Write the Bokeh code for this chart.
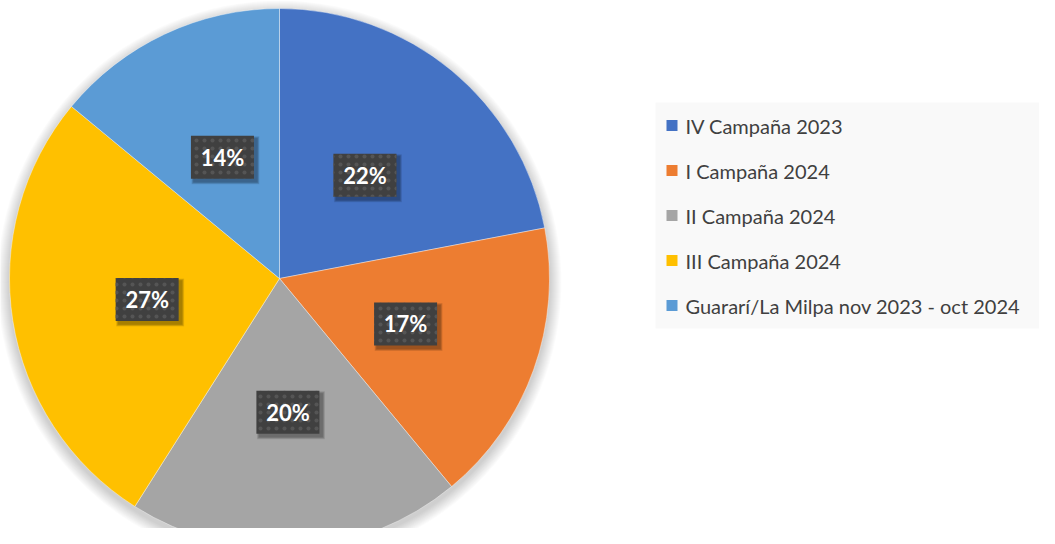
import math
from bokeh.plotting import figure
from bokeh.models import Range1d, ColumnDataSource
from bokeh.core.properties import value
from bokeh.embed import file_html
from bokeh.resources import INLINE

categories = ["IV Campaña 2023", "I Campaña 2024", "II Campaña 2024",
              "III Campaña 2024", "Guararí/La Milpa nov 2023 - oct 2024"]
shares = [22, 17, 20, 27, 14]
labels = ["22%", "17%", "20%", "27%", "14%"]
colors = ["#4472C4", "#ED7D31", "#A5A5A5", "#FFC000", "#5B9BD5"]

W, H = 1039, 528
p = figure(width=W, height=H, x_range=Range1d(0, W), y_range=Range1d(0, H),
           output_backend="svg", toolbar_location=None, min_border=0)
p.axis.visible = False
p.grid.visible = False
p.outline_line_color = None
p.background_fill_color = "white"
p.border_fill_color = "white"

cx, cy, R = 279, 250, 270

# soft shadow (offset downward)
for i in range(12, 0, -1):
    p.circle(x=[cx], y=[cy - 4], radius=R + i, fill_color="black",
             fill_alpha=0.016, line_color=None)

total = sum(shares)
starts, ends, lx, ly = [], [], [], []
cum = 0.0
for s in shares:
    a0 = math.pi / 2 - 2 * math.pi * cum / total
    cum += s
    a1 = math.pi / 2 - 2 * math.pi * cum / total
    starts.append(a0)
    ends.append(a1)
    mid = (a0 + a1) / 2
    lx.append(cx + 134 * math.cos(mid))
    ly.append(cy + 134 * math.sin(mid))

src = ColumnDataSource(dict(start=starts, end=ends, color=colors, lx=lx, ly=ly,
                            label=labels, cat=categories))
p.wedge(x=cx, y=cy, radius=R, start_angle="start", end_angle="end",
        direction="clock", fill_color="color", line_color="white",
        line_width=1, line_alpha=0.4, source=src)

# label boxes with shadow
for k in range(5, 0, -1):
    p.rect(x=[v + 3 for v in lx], y=[v - 3 for v in ly], width=63 + k, height=43 + k,
           fill_color="black", fill_alpha=0.08, line_color=None)
p.rect(x="lx", y="ly", width=63, height=43, fill_color="#404040",
       line_color=None, hatch_pattern=".", hatch_color="#555555",
       hatch_scale=8, hatch_weight=1.5, source=src)
p.text(x="lx", y="ly", text="label", text_color="white", text_font=value("Lato"),
       text_font_style="bold", text_font_size="22px", text_align="center",
       text_baseline="middle", source=src)

# legend
lg_left, lg_right, lg_top, lg_bottom = 655, W, 426, 200
p.quad(left=[lg_left], right=[lg_right], top=[lg_top], bottom=[lg_bottom],
       fill_color="#f9f9f9", line_color=None)
rows = [403 - 45 * i for i in range(len(categories))]
p.rect(x=[671.5] * len(rows), y=rows, width=11, height=11, fill_color=colors,
       line_color=None)
p.text(x=[685] * len(rows), y=rows, text=categories, text_color="#404040",
       text_font=value("Lato"), text_font_size="20px", text_baseline="middle")

open("out.html", "w").write(file_html(p, INLINE))
